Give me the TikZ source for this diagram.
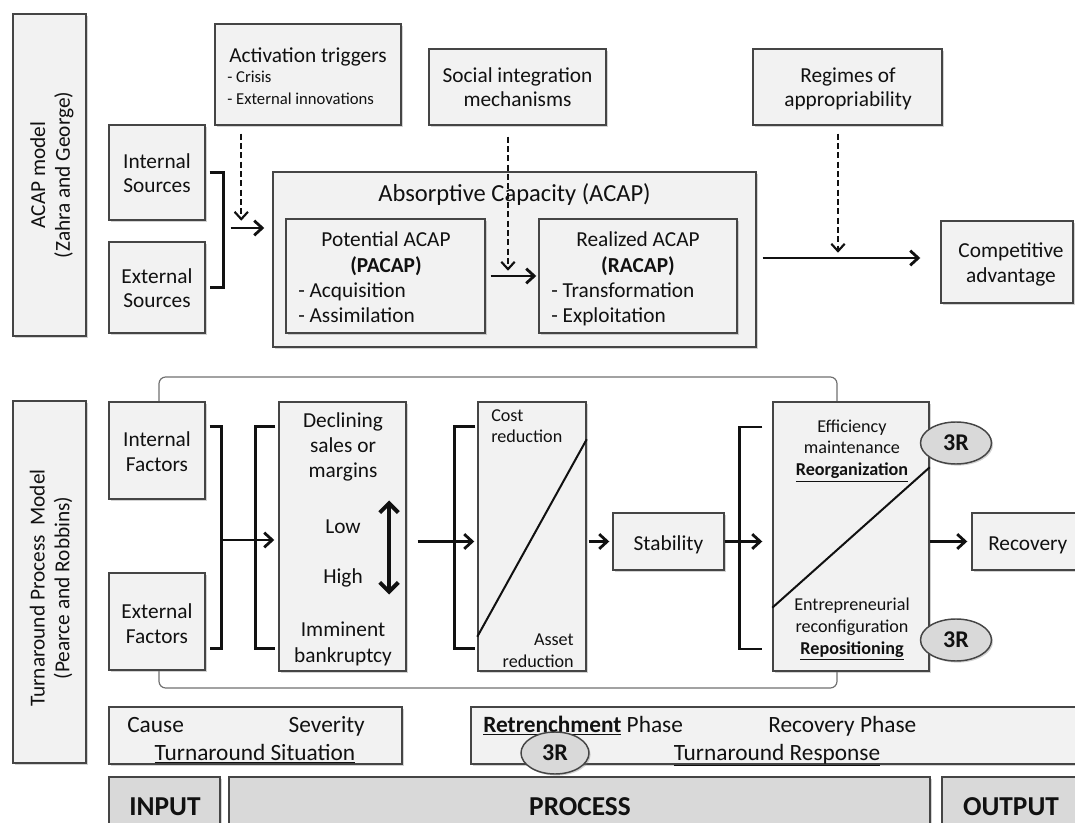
\documentclass[tikz,border=0pt]{standalone}
\usepackage{fontspec}
\setmainfont{Carlito}
\usetikzlibrary{arrows.meta,shadows,shapes.geometric,calc}

\definecolor{boxfill}{HTML}{F2F2F2}
\definecolor{boxline}{HTML}{454545}
\definecolor{greyfill}{HTML}{D9D9D9}
\definecolor{framegrey}{HTML}{707070}
\definecolor{inkc}{HTML}{111111}

\newcommand\fmain{\fontsize{16}{18.5}\selectfont}
\newcommand\ftitle{\fontsize{18.4}{21}\selectfont}
\newcommand\fsmall{\fontsize{12.5}{16.5}\selectfont}
\newcommand\fmid{\fontsize{13.6}{16.5}\selectfont}
\newcommand\fstrip{\fontsize{17.5}{20}\selectfont}
\newcommand\fhead{\fontsize{20.5}{24}\selectfont\bfseries}
\newcommand\fthree{\fontsize{18}{20}\selectfont\bfseries}

\tikzset{
  box/.style={draw=boxline, line width=1.1pt, fill=boxfill, inner sep=0pt,
    drop shadow={shadow xshift=1.4pt, shadow yshift=-1.4pt, opacity=0.35}},
  greybox/.style={box, fill=greyfill},
  sz/.style 2 args={minimum width=#1*0.75pt, minimum height=#2*0.75pt},
  tx/.style={inner sep=0pt, anchor=base, font=\fmain, text=inkc},
  txl/.style={tx, anchor=base west},
  txr/.style={tx, anchor=base east},
  vlabel/.style={rotate=90, align=center, inner sep=0pt, font=\fmain, text=inkc},
  arr/.style={line width=2.1pt, draw=inkc, -{Straight Barb[length=6pt,width=11pt]}},
  darr/.style={line width=1.6pt, draw=inkc, dash pattern=on 4.5pt off 2.5pt,
    -{Straight Barb[length=5.5pt,width=10pt]}},
  brk/.style={line width=2.1pt, draw=inkc},
  diag/.style={line width=1.5pt, draw=inkc},
  frameline/.style={line width=0.9pt, draw=framegrey, rounded corners=5pt},
  threeR/.style={ellipse, draw=boxline, fill=greyfill, line width=1.1pt, inner sep=0pt,
    font=\fthree, text=inkc,
    drop shadow={shadow xshift=1.2pt, shadow yshift=-1.2pt, opacity=0.35}},
}

\begin{document}
\begin{tikzpicture}[x=0.75pt, y=-0.75pt]
\useasboundingbox (0,0) rectangle (1075,823);

% ---------------- ACAP model (upper band) ----------------
\node[box, sz={73}{322}] (acapL) at (49.5,175) {};
\node[vlabel] (acapLt) at (52,175) {ACAP model\\(Zahra and George)};

\node[box, sz={96}{95}] (intS) at (157,172.5) {};
\node[tx] (intSa) at (157,169) {Internal};
\node[tx] (intSb) at (157,193) {Sources};

\node[box, sz={96}{91}] (extS) at (157,287.5) {};
\node[tx] (extSa) at (157,284) {External};
\node[tx] (extSb) at (157,308) {Sources};

\node[box, sz={186}{101}] (trig) at (308,74.5) {};
\node[tx] (trigA) at (308,63) {Activation triggers};
\node[txl, font=\fsmall] (trigB) at (227,83) {- Crisis};
\node[txl, font=\fsmall] (trigC) at (227,105) {- External innovations};

\node[box, sz={177}{76}] (social) at (517.5,87) {};
\node[tx] (socialA) at (517.5,83) {Social integration};
\node[tx] (socialB) at (517.5,107) {mechanisms};

\node[box, sz={189}{76}] (regimes) at (847.5,87) {};
\node[tx] (regimesA) at (848,83) {Regimes of};
\node[tx] (regimesB) at (848,107) {appropriability};

\node[box, sz={483}{175}] (acap) at (514.5,259.5) {};
\node[tx, font=\ftitle] (acapT) at (514.5,202) {Absorptive Capacity (ACAP)};

\node[box, sz={199}{114}] (pacap) at (385.5,276) {};
\node[tx] (pacapA) at (386,247) {Potential ACAP};
\node[tx] (pacapB) at (386,273) {\textbf{(PACAP)}};
\node[txl] (pacapC) at (298,298) {- Acquisition};
\node[txl] (pacapD) at (298,323) {- Assimilation};

\node[box, sz={198}{114}] (racap) at (638,276) {};
\node[tx] (racapA) at (638,247) {Realized ACAP};
\node[tx] (racapB) at (638,273) {\textbf{(RACAP)}};
\node[txl] (racapC) at (551,298) {- Transformation};
\node[txl] (racapD) at (551,323) {- Exploitation};

\node[box, sz={132}{82}] (comp) at (1007,262) {};
\node[tx] (compA) at (1011,258) {Competitive};
\node[tx] (compB) at (1011,283) {advantage};

% sources bracket and flows
\draw[brk] ($(intS.east)+(4,0)$) -- ++(14,0) |- ($(extS.east)+(4,0)$);
\coordinate (srcOut) at ($(intS.east)!0.5!(extS.east)+(25,-2)$);
\draw[arr] (srcOut) -- ($(srcOut -| acap.west)+(-8,0)$);
\draw[darr] ($(trig.south west)+(27,8)$) -- ($(trig.south west)+(27,95)$);
\draw[arr] ($(pacap.east)+(5,0)$) -- ($(racap.west)+(-2,0)$);
\draw[darr] ($(social.south)+(-9.5,11)$) -- ($(social.south)+(-9.5,145)$);
\coordinate (acapOut) at ($(racap.east)+(25,-18)$);
\draw[arr] (acapOut) -- ($(acapOut -| comp.west)+(-20,0)$);
\draw[darr] ($(regimes.south)+(-9.5,8)$) -- ($(regimes.south)+(-9.5,127)$);

% ---------------- Turnaround model (lower band) ----------------
\node[box, sz={73}{362}] (tpL) at (49.5,582) {};
\node[vlabel] (tpLt) at (51,588) {Turnaround Process\ \ Model\\(Pearce and Robbins)};

% thin frame round the process stages
\draw[frameline] (159,401) -- (159,377) -- (837,377) -- (837,402);
\draw[frameline] (159,670) -- (159,688) -- (837,688) -- (837,671);

\node[box, sz={96}{97}] (intF) at (157,450.5) {};
\node[tx] (intFa) at (157,447) {Internal};
\node[tx] (intFb) at (157,472) {Factors};

\node[box, sz={96}{97}] (extF) at (157,621.5) {};
\node[tx] (extFa) at (157,618) {External};
\node[tx] (extFb) at (157,643) {Factors};

\node[box, sz={127}{269}] (decl) at (342.5,536.5) {};
\node[tx] (declA) at (343,428) {Declining};
\node[tx] (declB) at (343,453) {sales or};
\node[tx] (declC) at (343,478) {margins};
\node[tx] (declD) at (343,533) {Low};
\node[tx] (declE) at (343,583) {High};
\node[tx] (declF) at (343,636) {Imminent};
\node[tx] (declG) at (343,662) {bankruptcy};
\draw[line width=3pt, draw=inkc,
  {Straight Barb[length=7pt,width=14pt]}-{Straight Barb[length=7pt,width=14pt]}]
  ($(decl.center)+(46.5,-36)$) -- ($(decl.center)+(46.5,58)$);

\node[box, sz={108}{269}] (cost) at (532,536.5) {};
\draw[diag] ($(cost.south west)+(0,-35)$) -- ($(cost.north east)+(0,38)$);
\node[txl, font=\fmid] (costA) at (491,422) {Cost};
\node[txl, font=\fmid] (costB) at (491,443) {reduction};
\node[txr, font=\fmid] (costC) at (574,645) {Asset};
\node[txr, font=\fmid] (costD) at (574,667) {reduction};

\node[box, sz={111}{57}] (stab) at (668.5,541.5) {};
\node[tx] (stabT) at (668.5,550) {Stability};

\node[box, sz={156}{269}] (eff) at (851,536.5) {};
\draw[diag] ($(eff.south west)+(0,-64)$) -- ($(eff.north east)+(0,66)$);
\node[tx, font=\fmid] (effA) at (852,433) {Efficiency};
\node[tx, font=\fmid] (effB) at (852,454) {maintenance};
\node[tx, font=\fmid] (effC) at (852,476) {\textbf{\underline{Reorganization}}};
\node[tx, font=\fmid] (effD) at (852,610) {Entrepreneurial};
\node[tx, font=\fmid] (effE) at (852,632) {reconfiguration};
\node[tx, font=\fmid] (effF) at (852,654) {\textbf{\underline{Repositioning}}};

\node[threeR, sz={71}{42}] (rA) at (956,443) {3R};
\node[threeR, sz={71}{42}] (rB) at (956,640) {3R};

\node[box, sz={118}{57}] (rec) at (1031,541.5) {};
\node[txl] (recT) at (988,550) {Recovery};

% brackets and flow arrows of the turnaround stages
\draw[brk] ($(intF.east)+(4,-24)$) -- ++(12,0) |- ($(extF.east)+(4,27)$);
\coordinate (factOut) at ($(intF.east)!0.5!(extF.east)+(16,4)$);
\draw[arr] (factOut) -- ($(factOut -| decl.west)+(-4,0)$);
\draw[brk] ($(decl.west)+(-3,-110)$) -- ++(-20,0) |- ($(decl.west)+(-3,112)$);

\draw[arr] ($(decl.east)+(11,5)$) -- ($(cost.west)+(-3,5)$);
\draw[brk] ($(cost.west)+(-2,-110)$) -- ++(-21,0) |- ($(cost.west)+(-2,112)$);

\draw[arr] ($(cost.east)+(2,5)$) -- ($(stab.west)+(-3,0)$);

\draw[arr] (stab.east) -- ($(eff.west)+(-10,5)$);
\draw[brk] ($(eff.west)+(-10,-109.5)$) -- ++(-23,0) |- ($(eff.west)+(-10,112.5)$);

\draw[arr] ($(eff.east)+(0,5)$) -- ($(rec.west)+(-4,0)$);

% ---------------- summary strip ----------------
\node[box, sz={293}{57}] (situ) at (255.5,735.5) {};
\node[txl, font=\fstrip] (situA) at (127,732) {Cause};
\node[txr, font=\fstrip] (situB) at (365,732) {Severity};
\node[tx, font=\fstrip] (situC) at (255,760) {\underline{Turnaround Situation}};

\node[box, sz={619}{57}] (resp) at (780.5,735.5) {};
\node[txl, font=\fstrip] (respA) at (483,732) {\textbf{\underline{Retrenchment}} Phase};
\node[txl, font=\fstrip] (respB) at (768,732) {Recovery Phase};
\node[tx, font=\fstrip] (respC) at (777,760) {\underline{Turnaround Response}};
\node[threeR, sz={68}{42}] (rC) at (555,753) {3R};

\node[greybox, sz={111}{73}] (inp) at (164.5,813.5) {};
\node[tx, font=\fhead] (inpT) at (165,815) {INPUT};
\node[greybox, sz={701}{73}] (proc) at (579.5,813.5) {};
\node[tx, font=\fhead] (procT) at (580,815) {PROCESS};
\node[greybox, sz={148}{73}] (outp) at (1016,813.5) {};
\node[tx, font=\fhead] (outpT) at (1011,815) {OUTPUT};

\end{tikzpicture}
\end{document}
